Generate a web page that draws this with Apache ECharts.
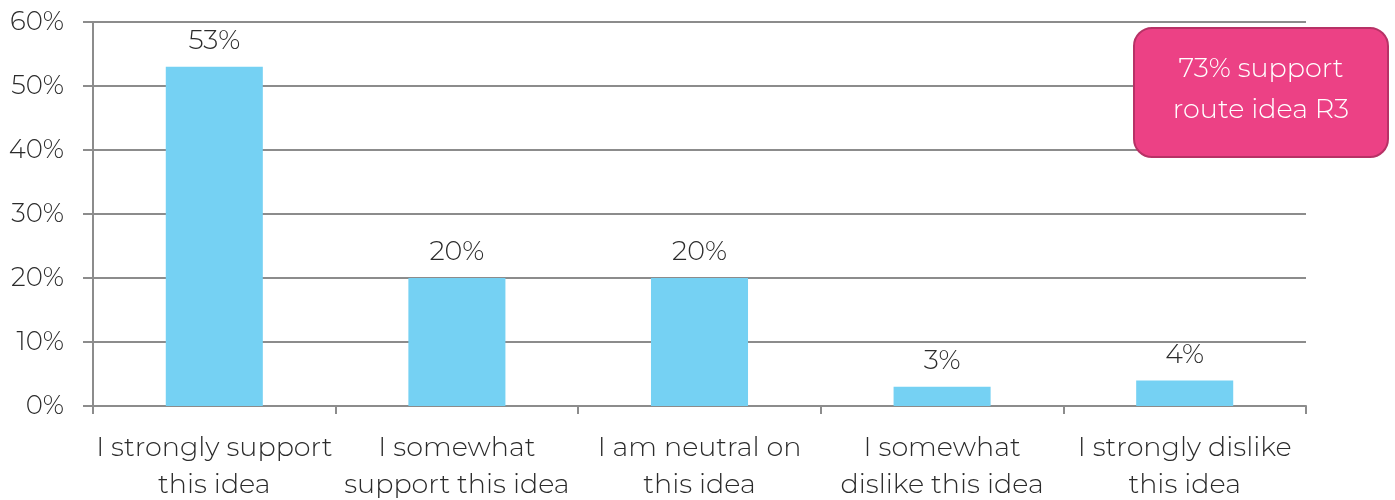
<!DOCTYPE html>
<html>
<head>
<meta charset="utf-8">
<style>
  html, body { margin: 0; padding: 0; background: #ffffff; }
  #chart { width: 1395px; height: 500px; }
</style>
<script src="https://cdn.jsdelivr.net/npm/echarts@6/dist/echarts.min.js"></script>
</head>
<body>
<div id="chart"></div>
<script>
// Survey responses for route idea R3
const categories = [
  'I strongly support\nthis idea',
  'I somewhat\nsupport this idea',
  'I am neutral on\nthis idea',
  'I somewhat\ndislike this idea',
  'I strongly dislike\nthis idea'
];
const shares = [53, 20, 20, 3, 4];
const yTicks = [0, 10, 20, 30, 40, 50, 60];
const calloutText = '73% support\nroute idea R3';

const FONT = 'Montserrat, Lato, "Open Sans", sans-serif';
const TEXT = '#2b2b2b';
const AXIS = '#8c8c8c';

const chart = echarts.init(document.getElementById('chart'), null, { renderer: 'canvas' });

chart.setOption({
  animation: false,
  grid: {
    left: 93, right: 89, top: 22, bottom: 94,
    containLabel: false,
    outerBoundsMode: 'none'
  },
  xAxis: {
    type: 'category',
    data: categories,
    axisLine: { show: true, lineStyle: { color: AXIS, width: 2 } },
    axisTick: { show: true, length: 8, alignWithLabel: false, lineStyle: { color: AXIS, width: 2 } },
    axisLabel: {
      interval: 0,
      margin: 24,
      color: TEXT,
      fontFamily: FONT,
      fontWeight: 300,
      fontSize: 27,
      lineHeight: 37
    }
  },
  yAxis: {
    type: 'value',
    min: yTicks[0],
    max: yTicks[yTicks.length - 1],
    interval: yTicks[1] - yTicks[0],
    axisLine: { show: true, lineStyle: { color: AXIS, width: 2 } },
    axisTick: { show: true, length: 10, lineStyle: { color: AXIS, width: 2 } },
    splitLine: { show: true, lineStyle: { color: AXIS, width: 2 } },
    axisLabel: {
      margin: 29,
      color: TEXT,
      fontFamily: FONT,
      fontWeight: 300,
      fontSize: 26,
      formatter: v => v + '%'
    }
  },
  series: [{
    type: 'bar',
    data: shares,
    barWidth: '40%',
    itemStyle: { color: '#75d1f3' },
    label: {
      show: true,
      position: 'top',
      distance: 12,
      color: TEXT,
      fontFamily: FONT,
      fontWeight: 300,
      fontSize: 27,
      formatter: p => p.value + '%'
    }
  }],
  graphic: [{
    type: 'group',
    left: 1133,
    top: 27,
    z: 100,
    children: [{
      type: 'rect',
      z: 100,
      shape: { x: 0, y: 0, width: 254, height: 129, r: 18 },
      style: { fill: '#ec4185', stroke: '#b73266', lineWidth: 2 }
    }, {
      type: 'text',
      z: 101,
      x: 127,
      y: 62,
      style: {
        text: calloutText,
        align: 'center',
        verticalAlign: 'middle',
        fill: '#ffffff',
        font: '300 27px ' + FONT,
        lineHeight: 41
      }
    }]
  }]
});
</script>
</body>
</html>
